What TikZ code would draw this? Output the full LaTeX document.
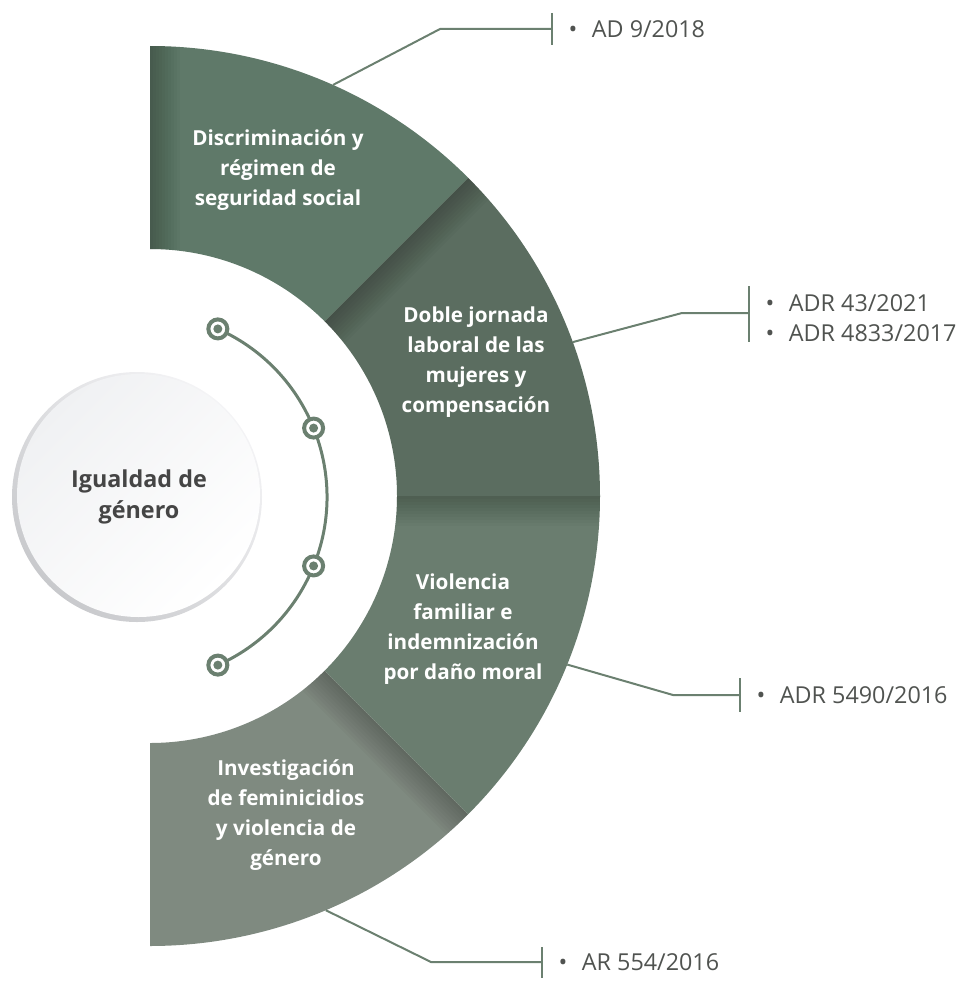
\documentclass[tikz,border=0pt]{standalone}
\usepackage{fontspec}
\setmainfont{Open Sans}
\usetikzlibrary{calc,positioning}

\definecolor{segA}{RGB}{95,121,105}
\definecolor{segB}{RGB}{91,109,96}
\definecolor{segC}{RGB}{106,125,111}
\definecolor{segD}{RGB}{127,138,128}
\definecolor{leadgreen}{RGB}{107,128,112}
\definecolor{refgray}{RGB}{80,83,80}
\definecolor{hubgray}{RGB}{69,69,69}
\definecolor{hubrimdark}{RGB}{200,201,204}
\definecolor{hubrimlight}{RGB}{244,244,246}
\definecolor{hubfilltop}{RGB}{240,241,243}

\tikzset{every picture/.style={line width=0.75pt}}
\tikzset{
  ringpart/.style 2 args={insert path={($(ctr)+(#1:450)$) arc[start angle=#1,end angle=#2,radius=450]
      -- ($(ctr)+(#2:247)$) arc[start angle=#2,end angle=#1,radius=247] -- cycle}},
  shadowstrip/.style={fill=black,fill opacity=0.022},
  segtext/.style={text=white,font=\bfseries\fontsize{15.5}{22.5}\selectfont,align=center,inner sep=0pt},
  hubtext/.style={text=hubgray,font=\bfseries\fontsize{17.5}{23.5}\selectfont,align=center,inner sep=0pt},
  leader/.style={draw=leadgreen,line width=1.5pt},
  reflist/.style={text=refgray,font=\fontsize{17.5}{22.5}\selectfont,align=left,anchor=west,inner sep=0pt},
  trackline/.style={draw=leadgreen,line width=2.25pt},
  trackdot/.style={circle,draw=leadgreen,fill=white,line width=3pt,minimum size=14.25pt,inner sep=0pt},
}

\begin{document}
\begin{tikzpicture}[x=0.75pt,y=0.75pt,yscale=-1,xscale=1]
    \useasboundingbox (0,0) rectangle (967,981);
    \coordinate (ctr) at (150,496);

    %Shape: Ring part 1 (top)
    \begin{scope}
      \clip [ringpart={-90}{-45}];
      \fill [segA] (0,0) rectangle (967,981);
      \foreach \w in {3,6,...,30}
        \fill [shadowstrip] (150,40) rectangle ++(\w,220);
    \end{scope}

    %Shape: Ring part 2
    \begin{scope}
      \clip [ringpart={-45}{0}];
      \fill [segB] (0,0) rectangle (967,981);
      \foreach \w in {3,6,...,30}
        \fill [shadowstrip] ($(ctr)+(-45:240)$) -- ($(ctr)+(-45:460)$)
              -- ($(ctr)+(-45:460)+(45:\w)$) -- ($(ctr)+(-45:240)+(45:\w)$) -- cycle;
    \end{scope}

    %Shape: Ring part 3
    \begin{scope}
      \clip [ringpart={0}{45}];
      \fill [segC] (0,0) rectangle (967,981);
      \foreach \w in {3,6,...,30}
        \fill [shadowstrip] (390,496) rectangle ++(220,\w);
    \end{scope}

    %Shape: Ring part 4 (bottom)
    \begin{scope}
      \clip [ringpart={45}{90}];
      \fill [segD] (0,0) rectangle (967,981);
      \foreach \w in {3,6,...,30}
        \fill [shadowstrip] ($(ctr)+(45:240)$) -- ($(ctr)+(45:460)$)
              -- ($(ctr)+(45:460)+(135:\w)$) -- ($(ctr)+(45:240)+(135:\w)$) -- cycle;
    \end{scope}

    %Text: ring parts
    \node [segtext] (part1) at (278,170) {Discriminación y\\régimen de\\seguridad social};
    \node [segtext] (part2) at (476,362) {Doble jornada\\laboral de las\\mujeres y\\compensación};
    \node [segtext] (part3) at (463,629) {Violencia\\familiar e\\indemnización\\por daño moral};
    \node [segtext] (part4) at (286,815) {Investigación\\de feminicidios\\y violencia de\\género};

    %Shape: Circle hub
    \shade [shading=axis,top color=hubrimlight,bottom color=hubrimdark,shading angle=-45] (137,497) circle (125);
    \shade [shading=axis,top color=hubfilltop,bottom color=white,shading angle=45] (138.5,495.5) circle (121.5);
    \node [hubtext] (hub) at (139,497) {Igualdad de\\género};

    %Shape: track with dots
    \coordinate (arcctr) at (143,497);
    \draw [trackline] ($(arcctr)+(-66:184)$) arc[start angle=-66,end angle=66,radius=184];
    \foreach \a [count=\i] in {-66,-22,22,66}{
      \node [trackdot] (dot\i) at ($(arcctr)+(\a:184)$) {};
      \fill [leadgreen] (dot\i.center) circle (4.5);
    }

    %Lines: leaders to the rulings
    \coordinate (start1) at ($(ctr)+(-66:450)$);
    \coordinate (bend1) at (440,29);
    \coordinate (tick1) at (552,29);
    \draw [leader] (start1) -- (bend1) -- (tick1);
    \draw [leader] ($(tick1)+(0,-16)$) -- ($(tick1)+(0,16)$);

    \coordinate (start2) at ($(ctr)+(-20:450)$);
    \coordinate (bend2) at (682,313);
    \coordinate (tick2) at (749,313);
    \draw [leader] (start2) -- (bend2) -- (tick2);
    \draw [leader] ($(tick2)+(0,-27)$) -- ($(tick2)+(0,29)$);

    \coordinate (start3) at ($(ctr)+(22:450)$);
    \coordinate (bend3) at (673,695);
    \coordinate (tick3) at (740,695);
    \draw [leader] (start3) -- (bend3) -- (tick3);
    \draw [leader] ($(tick3)+(0,-17)$) -- ($(tick3)+(0,17)$);

    \coordinate (start4) at ($(ctr)+(67:450)$);
    \coordinate (bend4) at (431,962);
    \coordinate (tick4) at (542,962);
    \draw [leader] (start4) -- (bend4) -- (tick4);
    \draw [leader] ($(tick4)+(0,-15)$) -- ($(tick4)+(0,16)$);

    %Text: rulings
    \node [reflist,right=12pt of tick1] (ref1) {•\hspace{11pt}AD 9/2018};
    \node [reflist,right=12pt of tick2,yshift=-4] (ref2) {•\hspace{11pt}ADR 43/2021\\•\hspace{11pt}ADR 4833/2017};
    \node [reflist,right=12pt of tick3] (ref3) {•\hspace{11pt}ADR 5490/2016};
    \node [reflist,right=12pt of tick4] (ref4) {•\hspace{11pt}AR 554/2016};
\end{tikzpicture}
\end{document}
